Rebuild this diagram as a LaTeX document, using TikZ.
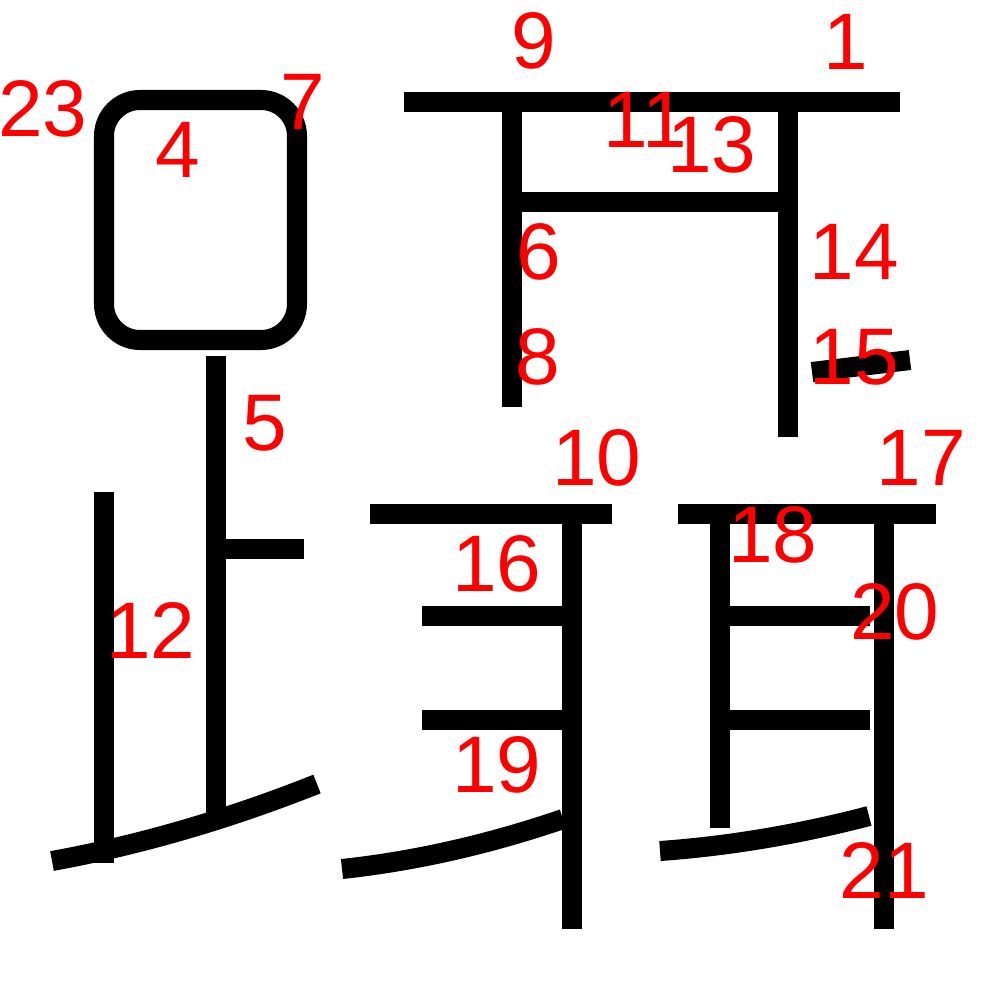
\documentclass[tikz,border=0pt]{standalone}
\usepackage{fontspec}
\setmainfont{Liberation Sans}

\begin{document}
\begin{tikzpicture}[x=0.01cm,y=-0.01cm, penline/.style={line width=0.2cm, draw=black}, strokenum/.style={text=red, inner sep=0pt, font=\fontsize{22.8}{24}\selectfont}]
		\useasboundingbox (0,0) rectangle (1000,1000);
		% top part
		\draw[penline] (404,102) -- (900,102);
		\draw[penline] (512,102) -- (512,407);
		\draw[penline] (788,102) -- (788,437);
		\draw[penline] (512,202) -- (788,202);
		\draw[penline] (812,372) -- (910,360);
		% left part
		\draw[penline, rounded corners=0.36cm] (104,100) rectangle (297,340);
		\draw[penline] (216,356) -- (216,813);
		\draw[penline] (216,549) -- (304,549);
		\draw[penline] (104,492) -- (104,863);
		\draw[penline] (52,861) .. controls (140,845) and (229,819) .. (317,784);
		% bottom middle
		\draw[penline] (370,514) -- (612,514);
		\draw[penline] (572,514) -- (572,929);
		\draw[penline] (422,616) -- (572,616);
		\draw[penline] (422,720) -- (572,720);
		\draw[penline] (342,869) .. controls (416,861) and (490,844) .. (563,819);
		% bottom right
		\draw[penline] (678,514) -- (936,514);
		\draw[penline] (720,514) -- (720,828);
		\draw[penline] (884,514) -- (884,929);
		\draw[penline] (720,616) -- (870,616);
		\draw[penline] (720,720) -- (870,720);
		\draw[penline] (660,851) .. controls (730,846) and (800,834) .. (869,816);
		% stroke numbers
		\node (n1) [strokenum] at (846,42) {1};
		\node (n4) [strokenum] at (178,150) {4};
		\node (n5) [strokenum] at (265,423) {5};
		\node (n6) [strokenum] at (539,252) {6};
		\node (n7) [strokenum] at (303,102) {7};
		\node (n8) [strokenum] at (538,357) {8};
		\node (n9) [strokenum] at (534,41) {9};
		\node (n10) [strokenum] at (597,458) {10};
		\node (n11) [strokenum] at (645,120) {11};
		\node (n12) [strokenum] at (151,630) {12};
		\node (n13) [strokenum] at (712,145) {13};
		\node (n14) [strokenum] at (854,252) {14};
		\node (n15) [strokenum] at (854,357) {15};
		\node (n16) [strokenum] at (497,564) {16};
		\node (n17) [strokenum] at (921,458) {17};
		\node (n18) [strokenum] at (773,535) {18};
		\node (n19) [strokenum] at (497,765) {19};
		\node (n20) [strokenum] at (895,612) {20};
		\node (n21) [strokenum] at (884,870) {21};
		\node (n23) [strokenum] at (43,109) {23};
	\end{tikzpicture}
\end{document}
